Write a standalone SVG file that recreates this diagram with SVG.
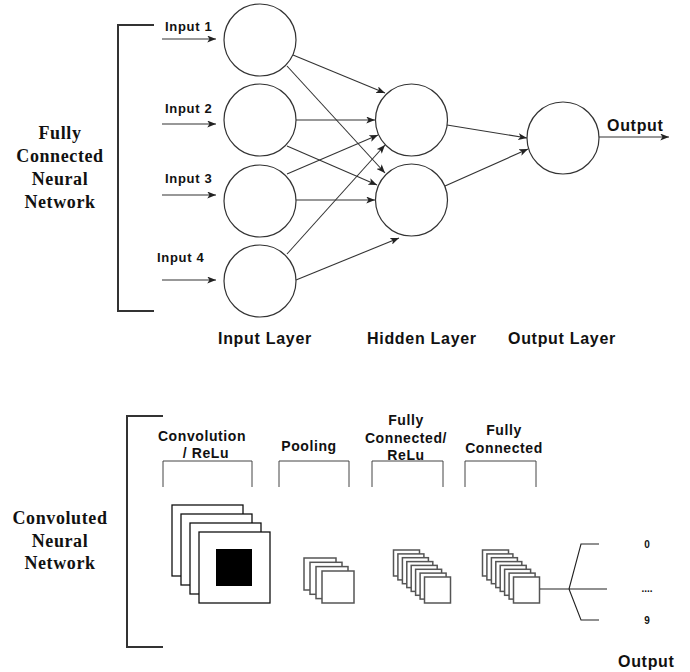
<svg xmlns="http://www.w3.org/2000/svg" width="690" height="672" viewBox="0 0 690 672">
  <defs>
    <marker id="arrow" viewBox="0 0 10 8" refX="10" refY="4" markerWidth="9" markerHeight="7" markerUnits="userSpaceOnUse" orient="auto">
      <path d="M0,0 L10,4 L0,8 L2.5,4 z" fill="#222"/>
    </marker>
  </defs>
  <style>
    .node { fill: #fff; stroke: #333; stroke-width: 1.2; }
    .edge { fill: none; stroke: #333; stroke-width: 1.1; marker-end: url(#arrow); }
    .bracket { fill: none; stroke: #333; stroke-width: 2; }
    .sub { fill: none; stroke: #444; stroke-width: 1; }
    .sq { fill: #fff; stroke: #111; stroke-width: 1.3; }
    .sqs { fill: #fff; stroke: #555; stroke-width: 1.5; }
    .line { fill: none; stroke: #222; stroke-width: 1.1; }
    .title { font-family: "Liberation Serif", "Times New Roman", serif; font-weight: bold; font-size: 18px; letter-spacing: 0.6px; fill: #111; text-anchor: middle; }
    .lbl { font-family: "Liberation Sans", Arial, sans-serif; font-weight: bold; font-size: 13px; letter-spacing: 0.7px; fill: #111; }
    .cap { font-family: "Liberation Sans", Arial, sans-serif; font-weight: bold; font-size: 14px; letter-spacing: 0.6px; fill: #111; text-anchor: middle; }
    .big { font-family: "Liberation Sans", Arial, sans-serif; font-weight: bold; font-size: 16px; letter-spacing: 0.7px; fill: #111; }
    .tiny { font-family: "Liberation Sans", Arial, sans-serif; font-weight: bold; font-size: 10px; fill: #111; text-anchor: middle; }
  </style>

  <!-- Fully connected network -->
  <g id="fc-bracket">
    <path class="bracket" d="M154,25 H118 V311 H154"/>
    <text class="title" x="60" y="139">Fully</text>
    <text class="title" x="60" y="162">Connected</text>
    <text class="title" x="60" y="185">Neural</text>
    <text class="title" x="60" y="208">Network</text>
  </g>

  <g id="input-1"><circle class="node" cx="260" cy="40" r="36"/><text class="lbl" x="165" y="31">Input 1</text></g>
  <g id="input-2"><circle class="node" cx="260" cy="120" r="36"/><text class="lbl" x="165" y="113">Input 2</text></g>
  <g id="input-3"><circle class="node" cx="260" cy="201" r="36"/><text class="lbl" x="165" y="183">Input 3</text></g>
  <g id="input-4"><circle class="node" cx="260" cy="281" r="36"/><text class="lbl" x="157" y="262">Input 4</text></g>
  <g id="hidden-1"><circle class="node" cx="411.5" cy="120" r="36"/></g>
  <g id="hidden-2"><circle class="node" cx="411.5" cy="200" r="36"/></g>
  <g id="output-node"><circle class="node" cx="563" cy="138" r="36"/><text class="big" x="607" y="131">Output</text></g>

  <g id="connectors">
    <line class="edge" x1="162" y1="39" x2="216" y2="39"/>
    <line class="edge" x1="162" y1="124" x2="216" y2="124"/>
    <line class="edge" x1="162" y1="195" x2="216" y2="195"/>
    <line class="edge" x1="162" y1="280" x2="216" y2="280"/>

    <line class="edge" x1="293" y1="55" x2="385" y2="93"/>
    <line class="edge" x1="287" y1="66" x2="385" y2="173"/>
    <line class="edge" x1="296" y1="120" x2="375" y2="120"/>
    <line class="edge" x1="287" y1="146" x2="377" y2="185"/>
    <line class="edge" x1="287" y1="174" x2="378" y2="135"/>
    <line class="edge" x1="296" y1="200" x2="375" y2="200"/>
    <line class="edge" x1="287" y1="254" x2="385" y2="145"/>
    <line class="edge" x1="296" y1="280" x2="399" y2="238"/>

    <line class="edge" x1="447" y1="125" x2="527" y2="138"/>
    <line class="edge" x1="445" y1="186" x2="528" y2="149"/>
    <line class="edge" x1="599" y1="137" x2="669" y2="137"/>
  </g>

  <g id="layer-labels">
    <text class="big" x="218" y="344">Input Layer</text>
    <text class="big" x="367" y="344">Hidden Layer</text>
    <text class="big" x="508" y="344">Output Layer</text>
  </g>

  <!-- Convolutional network -->
  <g id="cnn-bracket">
    <path class="bracket" d="M163,416 H127 V647 H163"/>
    <text class="title" x="60" y="524">Convoluted</text>
    <text class="title" x="60" y="547">Neural</text>
    <text class="title" x="60" y="569">Network</text>
  </g>

  <g id="conv-relu">
    <text class="cap" x="202" y="441">Convolution</text>
    <text class="cap" x="206" y="458">/ ReLu</text>
    <path class="sub" d="M163,487 V461 H252 V487"/>
    <rect class="sq" x="172" y="505" width="71" height="71"/>
    <rect class="sq" x="181" y="514" width="71" height="71"/>
    <rect class="sq" x="190" y="523" width="71" height="71"/>
    <rect class="sq" x="199" y="532" width="71" height="71"/>
    <rect x="216" y="549" width="36" height="37" fill="#000"/>
  </g>

  <g id="pooling">
    <text class="cap" x="309" y="451">Pooling</text>
    <path class="sub" d="M279,487 V461 H349 V487"/>
    <rect class="sqs" x="304" y="558" width="32" height="32"/>
    <rect class="sqs" x="310" y="562.3" width="32" height="32"/>
    <rect class="sqs" x="316" y="566.6" width="32" height="32"/>
    <rect class="sqs" x="322" y="571" width="32" height="32"/>
  </g>

  <g id="fc-relu">
    <text class="cap" x="406" y="425">Fully</text>
    <text class="cap" x="406" y="443">Connected/</text>
    <text class="cap" x="406" y="460">ReLu</text>
    <path class="sub" d="M372,487 V461 H443 V487"/>
    <rect class="sqs" x="393.5" y="550" width="26" height="26"/>
    <rect class="sqs" x="397.9" y="553.9" width="26" height="26"/>
    <rect class="sqs" x="402.4" y="557.7" width="26" height="26"/>
    <rect class="sqs" x="406.8" y="561.6" width="26" height="26"/>
    <rect class="sqs" x="411.2" y="565.4" width="26" height="26"/>
    <rect class="sqs" x="415.6" y="569.3" width="26" height="26"/>
    <rect class="sqs" x="420.1" y="573.1" width="26" height="26"/>
    <rect class="sqs" x="424.5" y="577" width="26" height="26"/>
  </g>

  <g id="fc">
    <text class="cap" x="504" y="435">Fully</text>
    <text class="cap" x="504" y="453">Connected</text>
    <path class="sub" d="M465,487 V461 H536 V487"/>
    <rect class="sqs" x="482.5" y="550" width="26" height="26"/>
    <rect class="sqs" x="486.9" y="553.9" width="26" height="26"/>
    <rect class="sqs" x="491.4" y="557.7" width="26" height="26"/>
    <rect class="sqs" x="495.8" y="561.6" width="26" height="26"/>
    <rect class="sqs" x="500.2" y="565.4" width="26" height="26"/>
    <rect class="sqs" x="504.6" y="569.3" width="26" height="26"/>
    <rect class="sqs" x="509.1" y="573.1" width="26" height="26"/>
    <rect class="sqs" x="513.5" y="577" width="26" height="26"/>
  </g>

  <g id="cnn-output">
    <path class="line" d="M540,589 H607 M569,589 L581,544 H599 M569,589 L581,620 H599"/>
    <text class="tiny" x="647" y="548">0</text>
    <text class="tiny" x="647" y="592">....</text>
    <text class="tiny" x="647" y="624">9</text>
    <text class="big" x="618" y="667">Output</text>
  </g>
</svg>
